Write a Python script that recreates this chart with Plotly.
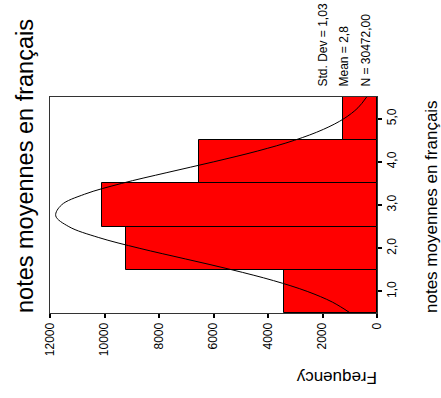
import plotly.graph_objects as go

# Histogram bins (midpoints) and frequencies
bin_centers = [1.0, 2.0, 3.0, 4.0, 5.0]
frequencies = [3400, 9200, 10100, 6540, 1232]

# Normal curve
curve_x = [0.5, 0.75, 1.0, 1.25, 1.5, 1.75, 2.0, 2.25, 2.5, 2.75, 3.0,
           3.25, 3.5, 3.75, 4.0, 4.25, 4.5, 4.75, 5.0, 5.25, 5.5]
curve_y = [980, 1630, 2560, 3800, 5320, 7020, 8730, 10230, 11310, 11790, 11580,
           10730, 9370, 7710, 5990, 4380, 3020, 1970, 1210, 700, 380]

bin_tick_vals = [1.0, 2.0, 3.0, 4.0, 5.0]
bin_tick_text = ["1,0", "2,0", "3,0", "4,0", "5,0"]
freq_tick_vals = [0, 2000, 4000, 6000, 8000, 10000, 12000]
freq_tick_text = ["0", "2000", "4000", "6000", "8000", "10000", "12000"]

title_text = "notes moyennes en français"
axis_text = "notes moyennes en français"
freq_label = "Frequency"
stats_lines = ["Std. Dev = 1,03", "Mean = 2,8", "N = 30472,00"]

FONT = "Liberation Sans, Arial, sans-serif"

W, H = 441, 398
L, R, T, B = 50, 64, 97, 85
PW, PH = W - L - R, H - T - B


def px(x):
    return (x - L) / PW


def py(y):
    return (H - B - y) / PH


fig = go.Figure()
fig.add_trace(go.Bar(
    y=bin_centers, x=frequencies, orientation="h", width=1.0,
    marker=dict(color="#ff0000", line=dict(color="black", width=1)),
    showlegend=False,
))
fig.add_trace(go.Scatter(
    y=curve_x, x=curve_y, mode="lines",
    line=dict(color="black", width=1, shape="spline"), showlegend=False,
))

fig.update_layout(
    width=W, height=H,
    margin=dict(l=L, r=R, t=T, b=B, autoexpand=False),
    paper_bgcolor="white", plot_bgcolor="white",
    font=dict(family=FONT, color="black", size=12),
    bargap=0,
    xaxis=dict(
        range=[12000, 0], tickvals=freq_tick_vals, ticktext=freq_tick_text,
        tickangle=-90, ticks="outside", ticklen=4, tickwidth=2, tickcolor="black",
        showline=True, linecolor="#333333", linewidth=1, mirror=True,
        showgrid=False, zeroline=False, tickfont=dict(size=12), automargin=False,
    ),
    yaxis=dict(
        range=[0.5, 5.5], side="right", tickvals=bin_tick_vals, ticktext=bin_tick_text,
        tickangle=-90, ticks="outside", ticklen=4, tickwidth=2, tickcolor="black",
        showline=True, linecolor="#333333", linewidth=1, mirror=True,
        showgrid=False, zeroline=False, tickfont=dict(size=12), automargin=False,
    ),
)

anns = [
    dict(text=title_text, x=px(25), y=py(166), textangle=-90,
         font=dict(size=23.5)),
    dict(text=axis_text, x=px(431), y=py(206), textangle=-90,
         font=dict(size=17)),
    dict(text=freq_label, x=px(337), y=py(378), textangle=180,
         font=dict(size=17)),
]
for i, (s, xc) in enumerate(zip(stats_lines, [322, 343, 365])):
    anns.append(dict(text=s, x=px(xc), y=py(89), textangle=-90,
                     yanchor="bottom", font=dict(size=12)))
for a in anns:
    a.update(xref="paper", yref="paper", showarrow=False)
    if "xanchor" not in a:
        a["xanchor"] = "center"
    if "yanchor" not in a:
        a["yanchor"] = "middle"
fig.update_layout(annotations=anns)

fig.write_html(
    "out.html",
    config={"displayModeBar": False},
    post_script="document.body.style.margin='0';document.body.style.overflow='hidden';",
)
